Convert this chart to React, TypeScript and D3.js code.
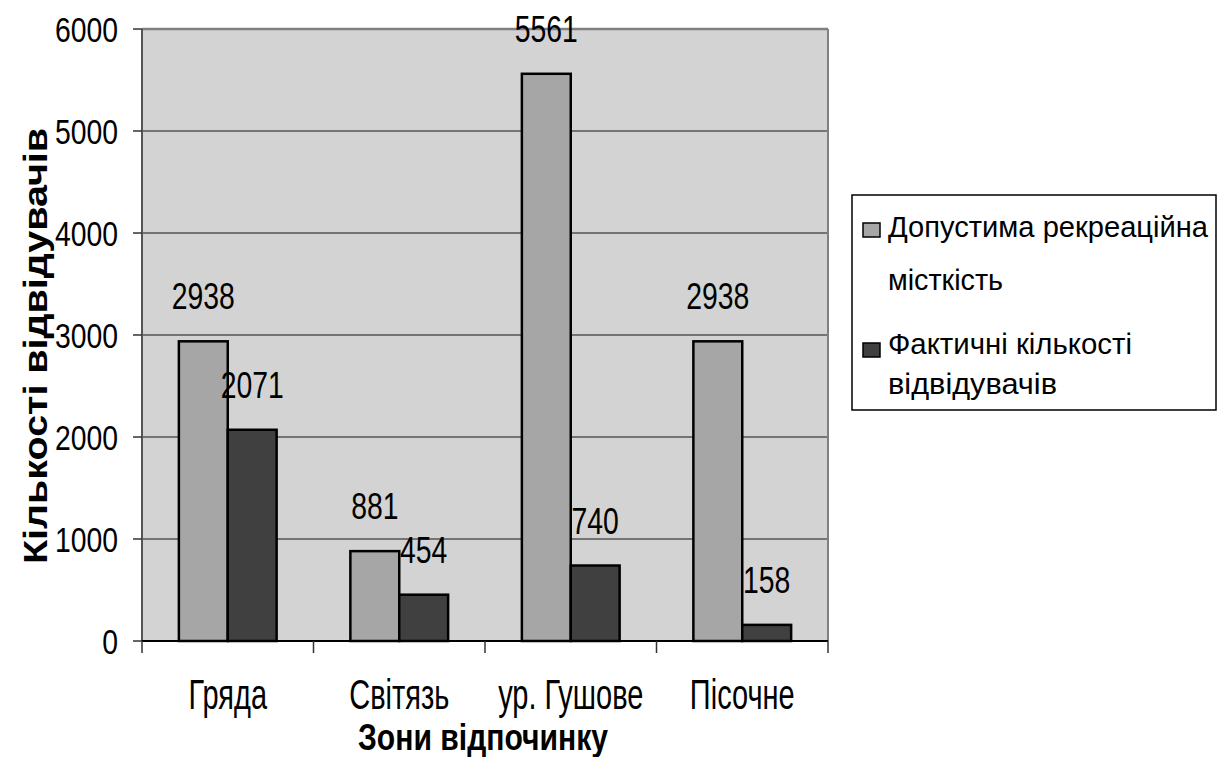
import React from "react";
import * as d3 from "d3";

const categories = ["Гряда", "Світязь", "ур. Гушове", "Пісочне"];
const seriesNames = ["Допустима рекреаційна місткість", "Фактичні кількості відвідувачів"];
const capacity = [2938, 881, 5561, 2938];
const actual = [2071, 454, 740, 158];
const yTicks = [0, 1000, 2000, 3000, 4000, 5000, 6000];
const legendLines = [["Допустима рекреаційна", "місткість"], ["Фактичні кількості", "відвідувачів"]];
const legendLineWidths = [[320, 115], [244, 169]];

const W = 1219;
const H = 757;
const plot = { left: 142, right: 828, top: 29, bottom: 641 };
const colors = ["#a6a6a6", "#404040"];
const FONT = "'Liberation Sans', Arial, sans-serif";

function SText({ x, y, sx, size, anchor = "middle", weight = "normal", children }: any) {
  return (
    <text
      transform={`translate(${x},${y}) scale(${sx},1)`}
      fontSize={size}
      textAnchor={anchor}
      fontFamily={FONT}
      fontWeight={weight}
      fill="#000"
    >
      {children}
    </text>
  );
}

export default function App() {
  const x0 = d3.scaleBand<string>().domain(categories).range([plot.left, plot.right]).padding(0);
  const bw = x0.bandwidth();
  const gap = bw * 0.43;
  const x1 = d3.scaleBand<string>().domain(seriesNames).range([gap / 2, bw - gap / 2]).padding(0);
  const y = d3.scaleLinear().domain([0, 6000]).range([plot.bottom, plot.top]);
  const seriesData = [capacity, actual];
  const legendBaselines = [[237, 290], [354, 394]];

  return (
    <svg
      width={W}
      height={H}
      style={{ position: "absolute", left: 0, top: 0, background: "#fff" }}
    >
      <rect x={plot.left} y={plot.top} width={plot.right - plot.left} height={plot.bottom - plot.top} fill="#d3d3d3" />
      {yTicks.filter((t) => t > 0 && t < 6000).map((t) => (
        <line key={t} x1={plot.left} x2={plot.right} y1={y(t)} y2={y(t)} stroke="#555" strokeWidth={1.5} />
      ))}
      {/* top & right border */}
      <line x1={plot.left} x2={plot.right} y1={y(6000)} y2={y(6000)} stroke="#808080" strokeWidth={2.5} />
      <line x1={plot.right} x2={plot.right} y1={plot.top} y2={plot.bottom} stroke="#808080" strokeWidth={2} />
      {/* bars */}
      {categories.map((c, ci) =>
        seriesNames.map((s, si) => {
          const v = seriesData[si][ci];
          const bx = (x0(c) as number) + (x1(s) as number);
          return (
            <rect
              key={c + s}
              x={bx}
              y={y(v)}
              width={x1.bandwidth()}
              height={y(0) - y(v)}
              fill={colors[si]}
              stroke="#000"
              strokeWidth={2.5}
            />
          );
        })
      )}
      {/* axes */}
      <line x1={plot.left} x2={plot.left} y1={plot.top} y2={plot.bottom} stroke="#555" strokeWidth={2} />
      {yTicks.map((t) => (
        <line key={"yt" + t} x1={plot.left - 9} x2={plot.left} y1={y(t)} y2={y(t)} stroke="#333" strokeWidth={1.5} />
      ))}
      <line x1={plot.left} x2={plot.right} y1={plot.bottom} y2={plot.bottom} stroke="#000" strokeWidth={2} />
      {[...categories.map((c) => x0(c) as number), plot.right].map((xv, i) => (
        <line key={"xt" + i} x1={xv} x2={xv} y1={plot.bottom} y2={plot.bottom + 12} stroke="#333" strokeWidth={1.5} />
      ))}
      {/* y tick labels */}
      {yTicks.map((t) => (
        <SText key={"yl" + t} x={118} y={y(t) + 12.5} sx={0.81} size={35} anchor="end">
          {t}
        </SText>
      ))}
      {/* data labels */}
      {categories.map((c, ci) =>
        seriesNames.map((s, si) => {
          const v = seriesData[si][ci];
          const cx = (x0(c) as number) + (x1(s) as number) + x1.bandwidth() / 2;
          return (
            <SText key={"dl" + c + s} x={cx} y={y(v) - 32} sx={0.766} size={37}>
              {v}
            </SText>
          );
        })
      )}
      {/* category labels */}
      {categories.map((c) => (
        <SText key={"cl" + c} x={(x0(c) as number) + bw / 2} y={709} sx={0.69} size={42}>
          {c}
        </SText>
      ))}
      {/* axis titles */}
      <text
        x={(plot.left + plot.right) / 2 - 2}
        y={750}
        fontSize={36}
        fontWeight="bold"
        fontFamily={FONT}
        textAnchor="middle"
        textLength={250}
        lengthAdjust="spacingAndGlyphs"
      >
        Зони відпочинку
      </text>
      <text
        transform={`translate(47,346) rotate(-90)`}
        fontSize={33}
        fontWeight="bold"
        fontFamily={FONT}
        textAnchor="middle"
        textLength={436}
        lengthAdjust="spacingAndGlyphs"
      >
        Кількості відвідувачів
      </text>
      {/* legend */}
      <rect x={852} y={195} width={364} height={215} fill="#fff" stroke="#000" strokeWidth={1.5} />
      {legendLines.map((lines, i) => (
        <g key={"lg" + i}>
          <rect x={863} y={i === 0 ? 223 : 343} width={17} height={14} fill={colors[i]} stroke="#000" strokeWidth={1.5} />
          {lines.map((ln, j) => (
            <text
              key={ln}
              x={888}
              y={legendBaselines[i][j]}
              fontSize={29}
              fontFamily={FONT}
              textLength={legendLineWidths[i][j]}
              lengthAdjust="spacingAndGlyphs"
            >
              {ln}
            </text>
          ))}
        </g>
      ))}
    </svg>
  );
}
